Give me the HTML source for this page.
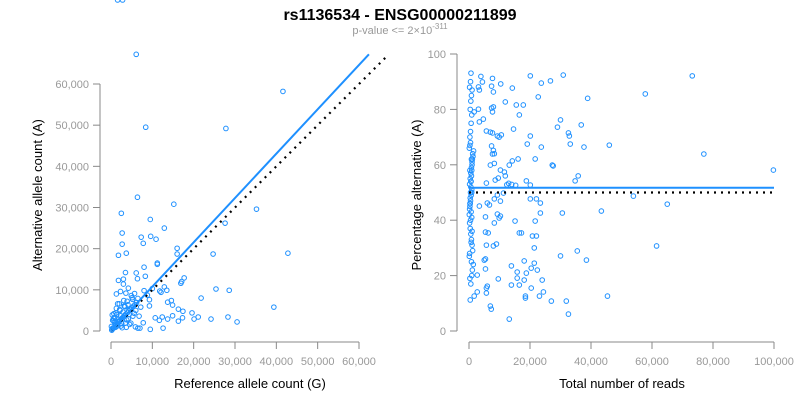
<!DOCTYPE html>
<html><head><meta charset="utf-8"><style>
body{margin:0;background:#fff;}
svg{display:block;font-family:"Liberation Sans",sans-serif;}
</style></head><body>
<svg id="chart" width="800" height="400" viewBox="0 0 800 400" xmlns="http://www.w3.org/2000/svg">
<text x="400" y="20" text-anchor="middle" font-size="16" font-weight="bold" fill="#000">rs1136534 - ENSG00000211899</text>
<text x="400" y="34" text-anchor="middle" font-size="11" fill="#999">p-value &lt;= 2×10<tspan dy="-5" font-size="8">-311</tspan></text>
<g id="left"></g>
<g id="right"></g>
</svg>
<script>
// Left panel data: reference count (G), alternative count (A)
const leftRef = [6100,41600,8400,27800,6400,15200,35200,2500,27600,9500,12900,2700,7300,9600,10900,2700,7800,16000,16000,1800,3700,24700,42800,11200,11200,8000,3500,6100,8300,6400,17700,17100,16900,1800,3000,3000,4200,2300,1300,10000,12900,11800,13500,12100,25400,28600,21800,39400,14600,14900,13700,9300,9300,16300,17400,19600,20100,21100,24200,28300,30500,10700,12400,11700,12600,13700,14900,16300,17300,7800,6500,7000,
 500,800,1000,1200,1500,1800,2000,2200,2500,2800,3000,3300,3600,4000,4300,4700,5000,5400,5800,6200,600,900,1400,1700,2100,2400,2900,3200,3500,3900,4200,4600,5100,5600,200,400,700,1100,1600,1900,2300,2600,3100,3400,3800,4100,4500,4900,5300,5700,6000,300,900,1300,2000,2700,3300,4400,5200,1000,1500,2500,3600,4800,6500,7200,8000,8800,9500,200,100,400,600,1200,2200,3700,5900,6800,1600,2800];
const leftAlt = [67200,58200,49500,49200,32500,30800,29600,28600,26200,27100,25000,23800,22800,23000,22300,21100,21300,20100,18700,18400,18900,18700,18900,16500,16200,15500,14200,14100,13300,12700,12900,12000,11600,12300,12600,11400,10400,9600,9000,10300,10700,9700,9900,9400,10200,9900,8000,5800,7400,6300,7000,7600,6100,5300,4800,4400,2900,3400,2900,3400,2200,3200,3400,2600,700,2900,3700,2400,3200,2000,700,700,
 600,900,1300,1500,1700,2100,2300,2600,2900,3200,3400,3800,4100,4500,4900,5200,5600,6000,6400,6900,2500,3300,4000,2800,5200,1200,4600,6100,1900,7200,3000,5400,8100,4300,300,700,4200,900,6600,2400,3700,1800,7400,5900,2700,6400,1600,8600,3600,9100,5000,3900,2000,5500,6600,800,6000,4000,7700,2300,1200,3000,9200,1900,7900,5800,9800,8700,400,200,1100,2600,3100,4400,5000,900,1000,3600];
// Right panel data: total reads, percentage alternative
const rightTot = [650,3900,7700,10400,20100,23700,26700,30900,73200,57800,38900,22700,14200,11900,15500,17800,16500,30000,36800,29000,32600,32900,20100,33200,37700,46000,23700,19100,14600,77000,21700,16100,27300,27600,99800,35800,34800,18800,20100,53900,65000,20100,22100,23400,23400,30600,43400,21700,15100,16500,17200,20800,22100,21400,61500,35500,30000,38500,18100,21400,20400,22400,13900,15800,15800,18800,18100,24000,13900,16500,20400,18500,18500,23100,24400,45400,27000,31900,32600,13200,7000,7300,9600,6000,5700,5700,2700,1700,400,2700,5400,5000,5400,8000,9000,5700,5400,6300,5400,8300,9300,9900,10300,3400,6000,6700,8300,10300,9300,11300,5700,8600,9600,10300,11600,11900,14200,13200,7000,7700,8300,8000,8300,7400,9300,9900,10600,7000,7700,5700,3400,4700,3100,7400,8000,7700,1700,3100,3400,7400,8000,4400,12400,13000,14000,15300,
 100,200,300,400,500,600,700,800,900,1000,1100,1200,300,500,700,900,200,400,600,800,1000,1300,1500,100,300,500,700,900,200,400,600,800,1000,1200,100,300,500,700,900,400,600,800,1000,200,500,800,1100,300,600,900,1400,200,700,1000,500,800,300,600,900,400];
const rightPct = [93.1,91.9,91.2,89.2,92.1,89.5,90.3,92.4,92.1,85.6,84.0,84.5,87.7,82.7,81.6,81.6,78.0,76.2,74.4,73.6,71.5,70.4,70.4,67.5,66.4,67.1,66.4,67.5,72.9,63.9,62.1,62.1,59.9,59.6,58.1,56.0,54.2,54.2,52.7,48.7,45.8,47.7,47.7,46.2,42.6,42.6,43.3,39.7,39.7,35.4,35.4,34.3,34.3,30.0,30.7,28.9,27.1,25.6,25.3,24.5,22.7,22.0,23.5,21.3,19.1,20.9,18.4,18.4,16.6,16.6,15.5,12.6,11.9,12.6,14.1,12.6,10.8,10.8,6.1,4.3,9.0,7.9,18.8,16.2,15.5,13.7,14.1,12.6,11.2,20.2,22.4,25.6,26.0,30.7,31.4,31.0,35.7,35.4,41.2,39.0,42.2,40.8,41.5,45.1,46.2,45.5,47.7,46.9,49.1,49.8,53.4,54.5,55.2,58.1,57.4,56.0,61.4,59.9,59.9,63.9,60.5,65.2,64.0,66.8,70.4,70.0,70.8,71.8,71.5,72.2,75.5,76.5,80.1,80.5,80.9,79.1,79.1,88.1,87.0,88.4,86.3,89.9,52.8,53.3,52.9,52.6,
 42,44,46,48,50,52,54,56,58,60,62,64,45,47,49,51,53,55,57,59,61,63,65,66,67,68,43,41,39,37,35,33,31,29,27,70,72,75,78,80,83,85,87,88,90,25,22,19,17,20,24,28,32,36,40,62,58,54,50,46];
const leftXTicks=[0,10000,20000,30000,40000,50000,60000];
const leftYTicks=[0,10000,20000,30000,40000,50000,60000];
const rightXTicks=[0,20000,40000,60000,80000,100000];
const rightYTicks=[0,20,40,60,80,100];
const leftFitSlope=[1.077];
const rightFitLevel=[51.7];

const NS="http://www.w3.org/2000/svg";
function mk(parent,tag,attrs){const e=document.createElementNS(NS,tag);for(const k in attrs)e.setAttribute(k,attrs[k]);parent.appendChild(e);return e;}
const fmt=v=>v.toLocaleString('en-US');
const BLUE="#1e90ff";

// scales
const lx=v=>111+v*248/60000, ly=v=>331-v*247/60000;
const rx=v=>469+v*305/100000, ry=v=>331-v*2.77;

function axes(g,xs,ys,xt,yt,xAxisY,yAxisX,xlab,ylab,xlabX,ylabX){
  const ax=mk(g,'g',{});
  
  
  mk(ax,'line',{x1:xs(xt[0]),x2:xs(xt[xt.length-1]),y1:xAxisY,y2:xAxisY,stroke:'#888','stroke-width':1});
  xt.forEach(t=>{
    mk(ax,'line',{x1:xs(t),x2:xs(t),y1:xAxisY,y2:xAxisY+7,stroke:'#888'});
    const tx=mk(ax,'text',{x:xs(t),y:xAxisY+23,'text-anchor':'middle','font-size':11,fill:'#999'});
    
    
    tx.textContent=fmt(t);
  });
  const ay=mk(g,'g',{});
  
  
  mk(ay,'line',{x1:yAxisX,x2:yAxisX,y1:ys(yt[0]),y2:ys(yt[yt.length-1]),stroke:'#888'});
  yt.forEach(t=>{
    mk(ay,'line',{x1:yAxisX-7,x2:yAxisX,y1:ys(t),y2:ys(t),stroke:'#888'});
    const tx=mk(ay,'text',{x:yAxisX-11,y:ys(t)+4,'text-anchor':'end','font-size':11,fill:'#999'});
    
    
    tx.textContent=fmt(t);
  });
  const xl=mk(g,'text',{x:xlabX,y:388,'text-anchor':'middle','font-size':13,fill:'#000'});
  
  
  xl.textContent=xlab;
  const yl=mk(g,'text',{x:0,y:0,transform:`translate(${ylabX},195) rotate(-90)`,'text-anchor':'middle','font-size':13,fill:'#000'});
  
  
  yl.textContent=ylab;
}

const L=document.getElementById('left'), R=document.getElementById('right');
axes(L,lx,ly,leftXTicks,leftYTicks,342,100,'Reference allele count (G)','Alternative allele count (A)',250,42);
axes(R,rx,ry,rightXTicks,rightYTicks,342,457,'Total number of reads','Percentage alternative (A)',622,421);

leftRef.forEach((v,i)=>{
  const c=mk(L,'circle',{cx:lx(v),cy:ly(leftAlt[i]),r:2.3,fill:'none',stroke:BLUE,'stroke-width':1});
  
  
});
rightTot.forEach((v,i)=>{
  const c=mk(R,'circle',{cx:rx(v),cy:ry(rightPct[i]),r:2.3,fill:'none',stroke:BLUE,'stroke-width':1});
  
  
});

// left lines
const dl=mk(L,'line',{x1:lx(0),y1:ly(0),x2:lx(66500),y2:ly(66500),stroke:'#000','stroke-width':2.2,'stroke-dasharray':'2,5'});


const fl=mk(L,'line',{x1:lx(0),y1:ly(0),x2:lx(62400),y2:ly(62400*leftFitSlope[0]),stroke:BLUE,'stroke-width':2});


// right lines
const dr=mk(R,'line',{x1:rx(0),y1:ry(50),x2:rx(100000),y2:ry(50),stroke:'#000','stroke-width':2.2,'stroke-dasharray':'2,5'});


const fr=mk(R,'line',{x1:rx(0),y1:ry(rightFitLevel[0]),x2:rx(100000),y2:ry(rightFitLevel[0]),stroke:BLUE,'stroke-width':2});


</script>
</body></html>
